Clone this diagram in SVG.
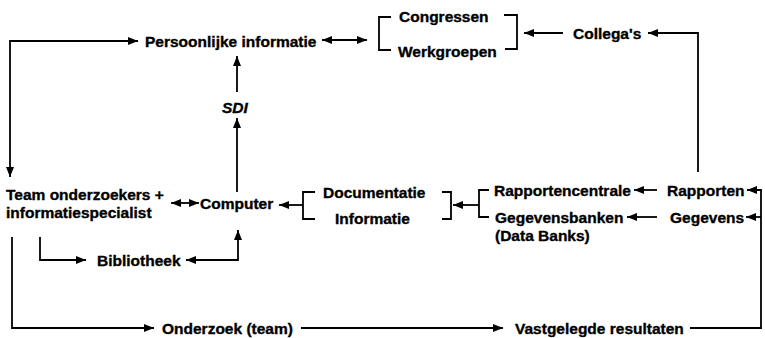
<svg xmlns="http://www.w3.org/2000/svg" width="765" height="338" viewBox="0 0 765 338">
<defs>
<style>
text{font-family:"Liberation Sans",Arial,Helvetica,sans-serif;font-weight:bold;font-size:15.5px;fill:#000;stroke:#000;stroke-width:0.35}
.it{font-style:italic}
.ln{fill:none;stroke:#000;stroke-width:1.8}
.br{fill:none;stroke:#000;stroke-width:1.8}
</style>
<marker id="ah" markerUnits="userSpaceOnUse" markerWidth="11" markerHeight="9" refX="10" refY="4" orient="auto-start-reverse">
<path d="M0,0 L10,4 L0,8 z" fill="#000"/>
</marker>
</defs>
<rect width="765" height="338" fill="#fff"/>
<g id="connectors">
<path class="ln" d="M10 177 L10 41 L138 41" marker-start="url(#ah)" marker-end="url(#ah)"/>
<path class="ln" d="M322 40 L367 40" marker-start="url(#ah)" marker-end="url(#ah)"/>
<path class="ln" d="M563 33 L524 33" marker-end="url(#ah)"/>
<path class="ln" d="M698 172 L698 33 L648 33" marker-end="url(#ah)"/>
<path class="ln" d="M237 92 L237 56" marker-end="url(#ah)"/>
<path class="ln" d="M237 192 L237 118" marker-end="url(#ah)"/>
<path class="ln" d="M171 203 L199 203" marker-start="url(#ah)" marker-end="url(#ah)"/>
<path class="ln" d="M303 205 L279 205" marker-end="url(#ah)"/>
<path class="ln" d="M479 205 L453 205" marker-end="url(#ah)"/>
<path class="ln" d="M657 190 L634 190" marker-end="url(#ah)"/>
<path class="ln" d="M657 217 L627 217" marker-end="url(#ah)"/>
<path class="ln" d="M690 328 L761 328 L761 190 L747 190" marker-end="url(#ah)"/>
<path class="ln" d="M761 217 L746 217" marker-end="url(#ah)"/>
<path class="ln" d="M12 237 L12 328 L154 328" marker-end="url(#ah)"/>
<path class="ln" d="M301 328 L503 328" marker-end="url(#ah)"/>
<path class="ln" d="M40 237 L40 260 L86 260" marker-end="url(#ah)"/>
<path class="ln" d="M186 260 L238 260 L238 230" marker-start="url(#ah)" marker-end="url(#ah)"/>
</g>
<g id="persoonlijke-informatie"><text x="145" y="46.5">Persoonlijke informatie</text></g>
<g id="congressen-werkgroepen">
<path class="br" d="M391 17 L379 17 L379 50 L391 50"/>
<path class="br" d="M504 15 L517 15 L517 49 L505 49"/>
<text x="399" y="21.5">Congressen</text>
<text x="398" y="56.5">Werkgroepen</text>
</g>
<g id="collegas"><text x="573" y="38.5">Collega's</text></g>
<g id="sdi"><text class="it" x="222" y="112.5">SDI</text></g>
<g id="team"><text x="6" y="199.5">Team onderzoekers +</text><text x="6" y="217.5">informatiespecialist</text></g>
<g id="computer"><text x="200" y="208.5">Computer</text></g>
<g id="documentatie-informatie">
<path class="br" d="M315 192 L303 192 L303 219 L315 219"/>
<path class="br" d="M442 192 L451 192 L451 219 L442 219"/>
<text x="323" y="197.5">Documentatie</text>
<text x="335" y="223.5">Informatie</text>
</g>
<g id="bronnen-haak"><path class="br" d="M489 190 L479 190 L479 217 L489 217"/></g>
<g id="rapportencentrale"><text x="494" y="195.5">Rapportencentrale</text></g>
<g id="rapporten"><text x="667" y="195.5">Rapporten</text></g>
<g id="gegevensbanken"><text x="495" y="222.5">Gegevensbanken</text><text x="495" y="240.5">(Data Banks)</text></g>
<g id="gegevens"><text x="670" y="222.5">Gegevens</text></g>
<g id="bibliotheek"><text x="97" y="265.5">Bibliotheek</text></g>
<g id="onderzoek"><text x="162" y="333.5">Onderzoek (team)</text></g>
<g id="vastgelegde-resultaten"><text x="515" y="333.5">Vastgelegde resultaten</text></g>
</svg>
